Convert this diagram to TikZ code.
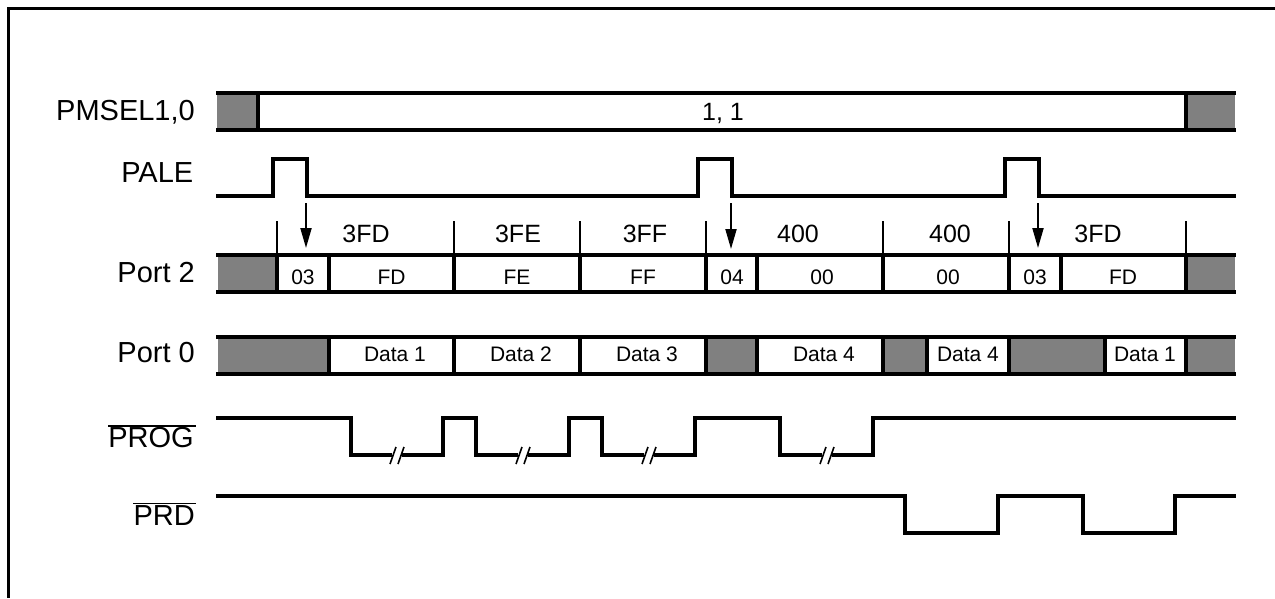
\documentclass[tikz,border=0pt]{standalone}
\usepackage{fontspec}
\setmainfont{Liberation Sans}
\usetikzlibrary{arrows.meta}
\tikzset{
  wave/.style={line width=4pt,black,miter limit=10},
  divider/.style={line width=4pt,black},
  graybox/.style={fill=graycell,draw=none},
  tick/.style={line width=2pt,black},
  frameline/.style={line width=3pt,black},
  overbar/.style={line width=1.6pt,black},
  slash/.style={line width=1.6pt,black},
  pointer/.style={line width=2pt,black,-{Triangle[length=20pt,width=11pt]}},
  siglabel/.style={anchor=base east,inner sep=0pt,font=\fontsize{29}{32}\selectfont},
  addr/.style={anchor=base,inner sep=0pt,font=\fontsize{25}{28}\selectfont},
  cell/.style={anchor=base,inner sep=0pt,font=\fontsize{21}{24}\selectfont}
}
\definecolor{graycell}{HTML}{808080}
\begin{document}
\begin{tikzpicture}[x=1pt,y=-1pt]
\useasboundingbox (0,0) rectangle (1275,598);
% frame
\coordinate (fA) at (1275,8.5);
\coordinate (fB) at (8,8.5);
\coordinate (fC) at (8,598);
\draw[frameline] (fA) -- (fB) -- (fC);
% gray fills
\fill[graybox] (217,93) rectangle (258,130);
\fill[graybox] (1186,93) rectangle (1235,130);
\fill[graybox] (218,255) rectangle (277,292);
\fill[graybox] (1186,255) rectangle (1235,292);
\fill[graybox] (218,337) rectangle (329,374);
\fill[graybox] (706,337) rectangle (757,374);
\fill[graybox] (883,337) rectangle (927,374);
\fill[graybox] (1009,337) rectangle (1105,374);
\fill[graybox] (1186,337) rectangle (1235,374);
% buses
\foreach \yt/\yb in {93/130,255/292,337/374}{
  \draw[wave] (216,\yt) -- (1236,\yt);
  \draw[wave] (216,\yb) -- (1236,\yb);
}
\foreach \x in {258,1186}{\draw[divider] (\x,93) -- (\x,130);}
\foreach \x in {277,329,454,580,706,757,883,1009,1061,1186}{\draw[divider] (\x,255) -- (\x,292);}
\foreach \x in {329,454,580,706,757,883,927,1009,1105,1186}{\draw[divider] (\x,337) -- (\x,374);}
% address ticks
\foreach \x in {277,454,580,706,883,1009,1186}{\draw[tick] (\x,221) -- (\x,255);}
% PALE
\draw[wave] (216,196) -| (273,159) -| (306.5,196) -| (698,159) -| (731.5,196) -| (1005,159) -| (1038.5,196) -- (1236,196);
% pointers
\coordinate (p1s) at (306,203); \coordinate (p1e) at (306,248);
\coordinate (p2s) at (731,203); \coordinate (p2e) at (731,249);
\coordinate (p3s) at (1038,203); \coordinate (p3e) at (1038,248);
\draw[pointer] (p1s) -- (p1e);
\draw[pointer] (p2s) -- (p2e);
\draw[pointer] (p3s) -- (p3e);
% PROG
\draw[wave] (216,418) -| (351,455) -- (392,455);
\draw[wave] (401.5,455) -| (443,418) -| (476,455) -- (518,455);
\draw[wave] (527.5,455) -| (569,418) -| (602,455) -- (644,455);
\draw[wave] (653.5,455) -| (695,418) -| (780,455) -- (822,455);
\draw[wave] (831.5,455) -| (872.5,418) -- (1236,418);
\foreach \x in {390,516,642,820}{
  \draw[slash] (\x,464) -- (\x+6,447);
  \draw[slash] (\x+8,464) -- (\x+14,447);
}
% PRD
\draw[wave] (216,496) -| (905,533) -| (998,496) -| (1083,533) -| (1175,496) -- (1236,496);
% signal labels
\node[siglabel] (lpmsel) at (195,120) {PMSEL1,0};
\node[siglabel] (lpale) at (193.5,182.5) {PALE};
\node[siglabel] (lp2) at (195,282) {Port 2};
\node[siglabel] (lp0) at (195,362.5) {Port 0};
\node[siglabel] (lprog) at (194,447.5) {PROG};
\node[siglabel] (lprd) at (195,525) {PRD};
\coordinate (oa) at (108,426); \coordinate (ob) at (196,426);
\coordinate (oc) at (133,503.5); \coordinate (od) at (196,503.5);
\draw[overbar] (oa) -- (ob);
\draw[overbar] (oc) -- (od);
% PMSEL value
\node[addr] (v11) at (723,120) {1, 1};
% addresses
\node[addr] (a1) at (366,242) {3FD};
\node[addr] (a2) at (518,242) {3FE};
\node[addr] (a3) at (645,242) {3FF};
\node[addr] (a4) at (798,242) {400};
\node[addr] (a5) at (950,242) {400};
\node[addr] (a6) at (1098,242) {3FD};
% Port 2 cells
\node[cell] (c1) at (303,284) {03};
\node[cell] (c2) at (391.5,284) {FD};
\node[cell] (c3) at (517,284) {FE};
\node[cell] (c4) at (643,284) {FF};
\node[cell] (c5) at (732,284) {04};
\node[cell] (c6) at (822,284) {00};
\node[cell] (c7) at (948,284) {00};
\node[cell] (c8) at (1035,284) {03};
\node[cell] (c9) at (1123,284) {FD};
% Port 0 cells
\node[cell] (d1) at (395,361) {Data 1};
\node[cell] (d2) at (521,361) {Data 2};
\node[cell] (d3) at (647,361) {Data 3};
\node[cell] (d4) at (824,361) {Data 4};
\node[cell] (d5) at (968,361) {Data 4};
\node[cell] (d6) at (1145,361) {Data 1};
\end{tikzpicture}
\end{document}
